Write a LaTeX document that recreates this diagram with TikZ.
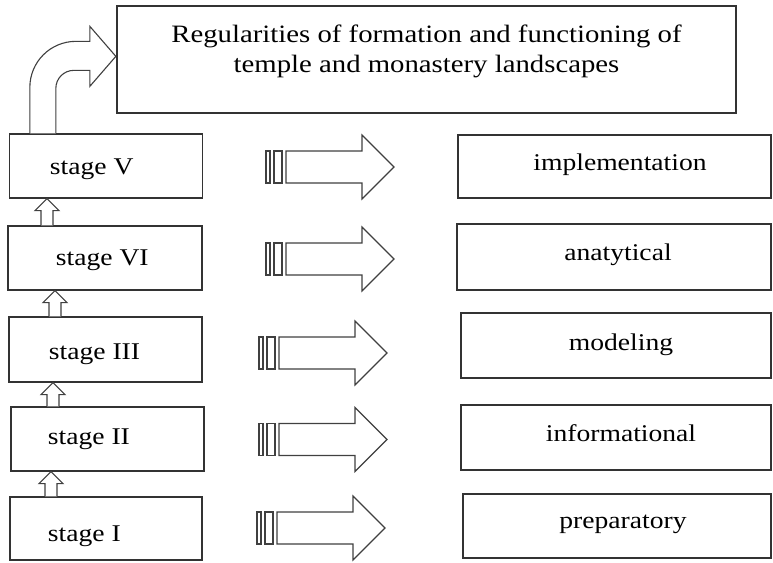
\documentclass[tikz,border=0pt]{standalone}
\usepackage{fontspec}
\setmainfont{Liberation Serif}[FakeStretch=1.15]
\usetikzlibrary{calc}

\begin{document}
\begin{tikzpicture}[x=1pt,y=-1pt]
	\tikzset{box/.style = {shape=rectangle,draw=black!80,line width=1.3pt,
			minimum width=#1,minimum height=64pt,inner sep=0pt},
			box/.default=193pt}
	\tikzset{lbl/.style = {font=\fontsize{24}{28}\selectfont}}
	\tikzset{hollow/.style = {draw=black!75,line width=1.1pt,fill=white,line join=miter}}
	\useasboundingbox (0,0) rectangle (773,562);
    % boxes
    \node[box=619pt,minimum height=107pt] (title) at (426.5,59.5) {};
    \node[box] (sV) at (106,166) {};
    \node[box=194pt] (sVI) at (105,258) {};
    \node[box,minimum height=65pt] (sIII) at (105.5,349.5) {};
    \node[box] (sII) at (107.5,439) {};
    \node[box=192pt,minimum height=63pt] (sI) at (106,528.5) {};
    \node[box=313pt,minimum height=63pt] (impl) at (614.5,166.5) {};
    \node[box=314pt,minimum height=66pt] (anal) at (614,257) {};
    \node[box=310pt,minimum height=65pt] (model) at (616,345.5) {};
    \node[box=310pt,minimum height=65pt] (info) at (616,437.5) {};
    \node[box=308pt] (prep) at (617,526) {};
    % texts
    \node[align=center,font=\fontsize{25}{30}\selectfont] (titletext) at (426.5,51.5)
        {Regularities of formation and functioning of\\temple and monastery landscapes};
    \node[lbl,anchor=base west] (tV) at ($(sV.west)+(37.5,8)$) {stage V};
    \node[lbl,anchor=base west] (tVI) at ($(sVI.west)+(45,7)$) {stage VI};
    \node[lbl,anchor=base west] (tIII) at ($(sIII.west)+(37,10)$) {stage III};
    \node[lbl,anchor=base west] (tII) at ($(sII.west)+(34,5)$) {stage II};
    \node[lbl,anchor=base west] (tI) at ($(sI.west)+(35,13)$) {stage I};
    \node[lbl,anchor=base] (tImpl) at ($(impl.center)+(5.5,3.5)$) {implementation};
    \node[lbl,anchor=base] (tAnal) at ($(anal.center)+(4,3)$) {anatytical};
    \node[lbl,anchor=base] (tModel) at ($(model.center)+(5,4.5)$) {modeling};
    \node[lbl,anchor=base] (tInfo) at ($(info.center)+(5,3.5)$) {informational};
    \node[lbl,anchor=base] (tPrep) at ($(prep.center)+(6,2)$) {preparatory};
    % striped arrows
    \foreach \x/\y in {266/167, 266/259, 259/353, 259/439.5, 257/528} {
        \draw[hollow] (\x,\y-16) rectangle ++(4,32);
        \draw[hollow] (\x+8,\y-16) rectangle ++(8,32);
        \draw[hollow] (\x+20,\y-16) -- (\x+96,\y-16) -- (\x+96,\y-32) -- (\x+128,\y)
            -- (\x+96,\y+32) -- (\x+96,\y+16) -- (\x+20,\y+16) -- cycle;
    }
    % small arrows between the stages
    \foreach \lo/\up/\x in {sVI/sV/47, sIII/sVI/55, sII/sIII/53, sI/sII/51}
        \draw[hollow] (\x-6,0 |- \lo.north) -- ($(\x-6,0 |- \up.south)+(0,12)$) -- ++(-6,0)
            -- (\x,0 |- \up.south) -- ++(12,12) -- ++(-6,0) -- (\x+6,0 |- \lo.north);
    % bent arrow to the title
    \draw[hollow] ([xshift=21pt]sV.north west) -- ++(0,-46)
        .. controls +(0,-25.4) and +(-25.4,0) .. ++(46,-46) -- ++(14,0) -- ++(0,-15)
        -- ++(26,30) -- ++(-26,30) -- ++(0,-16) -- ++(-16,0)
        .. controls +(-9.94,0) and +(0,-9.94) .. ++(-18,18) -- ++(0,45);
\end{tikzpicture}
\end{document}
